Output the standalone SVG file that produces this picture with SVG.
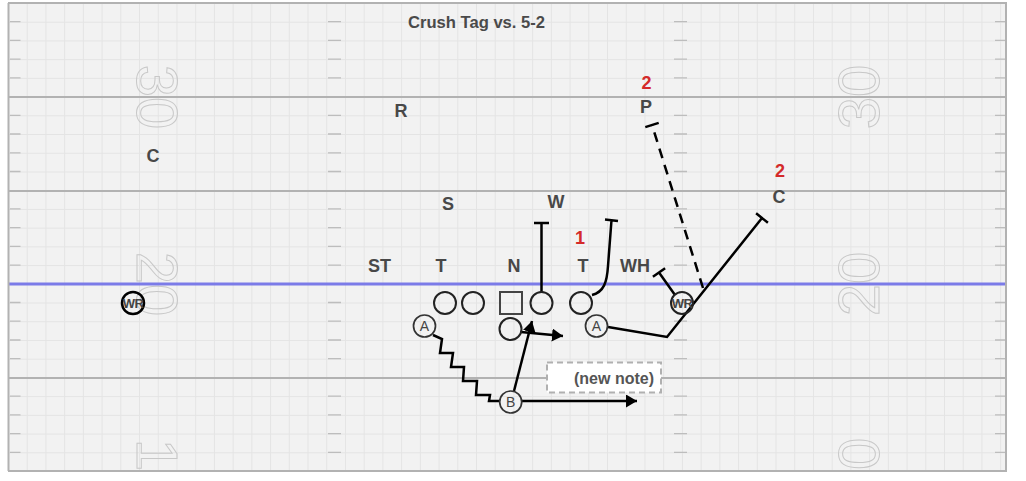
<svg xmlns="http://www.w3.org/2000/svg" width="1026" height="481" viewBox="0 0 1026 481">
<style>
.grid{stroke:#e4e4e4;stroke-width:1;fill:none}
.yard{stroke:#b2b2b2;stroke-width:2;fill:none}
.hash{stroke:#bdbdbd;stroke-width:1.3;fill:none}
.num{font-family:"Liberation Sans",Arial,sans-serif;font-size:58px;fill:none;stroke:#c8c8c8;stroke-width:1}
.lbl{font-family:"Liberation Sans",Arial,sans-serif;font-size:18px;font-weight:bold;fill:#484848;text-anchor:middle}
.red{fill:#d42a2a}
.pl{fill:none;stroke:#222;stroke-width:2}
.pt{font-family:"Liberation Sans",Arial,sans-serif;font-size:14px;fill:#444;text-anchor:middle}
.wr{font-family:"Liberation Sans",Arial,sans-serif;font-size:13px;font-weight:bold;fill:#444;text-anchor:middle;letter-spacing:-0.5px}
.rt{fill:none;stroke:#000;stroke-width:2.5;stroke-linejoin:miter}
.arr{marker-end:url(#ah)}
</style>
<defs>
<clipPath id="fieldClip"><rect x="8" y="3" width="998" height="468"/></clipPath>
<pattern id="gp" patternUnits="userSpaceOnUse" x="8" y="3" width="18.72" height="18.72">
<path class="grid" d="M0,0.5 H18.72 M0.5,0 V18.72"/>
</pattern>
<marker id="ah" markerUnits="userSpaceOnUse" markerWidth="13" markerHeight="14" refX="11" refY="6.5" orient="auto">
<path d="M0,0 L11,6.5 L0,13 z" fill="#000"/>
</marker>
</defs>
<rect width="1026" height="481" fill="#fff"/>
<g id="field" clip-path="url(#fieldClip)">
<rect x="8" y="3" width="998" height="468" fill="#f2f2f2"/>
<rect x="8" y="3" width="998" height="468" fill="url(#gp)"/>
<path class="hash" d="M10,21.7H20.5 M10,40.4H20.5 M10,59.2H20.5 M10,77.9H20.5 M10,115.3H20.5 M10,134H20.5 M10,152.8H20.5 M10,171.5H20.5 M10,208.9H20.5 M10,227.6H20.5 M10,246.4H20.5 M10,265.1H20.5 M10,302.5H20.5 M10,321.2H20.5 M10,340H20.5 M10,358.7H20.5 M10,396.1H20.5 M10,414.8H20.5 M10,433.6H20.5 M10,452.3H20.5"/>
<path class="hash" d="M328,21.7H341 M328,40.4H341 M328,59.2H341 M328,77.9H341 M328,115.3H341 M328,134H341 M328,152.8H341 M328,171.5H341 M328,208.9H341 M328,227.6H341 M328,246.4H341 M328,265.1H341 M328,302.5H341 M328,321.2H341 M328,340H341 M328,358.7H341 M328,396.1H341 M328,414.8H341 M328,433.6H341 M328,452.3H341"/>
<path class="hash" d="M674,21.7H687 M674,40.4H687 M674,59.2H687 M674,77.9H687 M674,115.3H687 M674,134H687 M674,152.8H687 M674,171.5H687 M674,208.9H687 M674,227.6H687 M674,246.4H687 M674,265.1H687 M674,302.5H687 M674,321.2H687 M674,340H687 M674,358.7H687 M674,396.1H687 M674,414.8H687 M674,433.6H687 M674,452.3H687"/>
<path class="hash" d="M995,21.7H1006 M995,40.4H1006 M995,59.2H1006 M995,77.9H1006 M995,115.3H1006 M995,134H1006 M995,152.8H1006 M995,171.5H1006 M995,208.9H1006 M995,227.6H1006 M995,246.4H1006 M995,265.1H1006 M995,302.5H1006 M995,321.2H1006 M995,340H1006 M995,358.7H1006 M995,396.1H1006 M995,414.8H1006 M995,433.6H1006 M995,452.3H1006"/>
<text class="num" text-anchor="middle" transform="translate(137,97) rotate(90)">30</text>
<text class="num" text-anchor="middle" transform="translate(137,284) rotate(90)">20</text>
<text class="num" text-anchor="start" transform="translate(137,438.7) rotate(90)">1</text>
<text class="num" text-anchor="middle" transform="translate(879,97) rotate(-90)">30</text>
<text class="num" text-anchor="middle" transform="translate(879,284) rotate(-90)">20</text>
<text class="num" text-anchor="start" transform="translate(879,470) rotate(-90)">0</text>
<path class="yard" d="M8,97H1006 M8,191H1006 M8,378H1006"/>
<line x1="8" y1="284" x2="1006" y2="284" stroke="#7b7be8" stroke-width="3"/>
</g>
<path class="yard" d="M8,3H1007 M8.5,3V471 M1006,3V471 M8,471H1007"/>
<text id="title" class="lbl" x="476.5" y="28" style="font-size:16.6px;fill:#4a4a4a">Crush Tag vs. 5-2</text>
<g id="defense">
<g id="d-c-left"><text class="lbl" x="153" y="162">C</text></g>
<g id="d-r"><text class="lbl" x="401" y="116.5">R</text></g>
<g id="d-p"><text class="lbl red" x="646.5" y="89">2</text><text class="lbl" x="646" y="113">P</text></g>
<g id="d-c-right"><text class="lbl red" x="780" y="177">2</text><text class="lbl" x="779" y="203">C</text></g>
<g id="d-s"><text class="lbl" x="448" y="210">S</text></g>
<g id="d-w"><text class="lbl" x="556" y="207.5">W</text></g>
<g id="d-st"><text class="lbl" x="379.5" y="271.5">ST</text></g>
<g id="d-t1"><text class="lbl" x="441" y="271.5">T</text></g>
<g id="d-n"><text class="lbl" x="514" y="271.5">N</text></g>
<g id="d-t2"><text class="lbl red" x="580" y="244">1</text><text class="lbl" x="583" y="271.5">T</text></g>
<g id="d-wh"><text class="lbl" x="635" y="271.5">WH</text></g>
</g>
<g id="connectors">
<path class="rt" d="M541.5,292 V223 M534,223 H549"/>
<path class="rt" d="M592,295 C604,292 607,282 608,266 L611.5,220 M605,219.5 L618,221"/>
<path class="rt" d="M675,295 L659,272.5 M652.9,276.8 L665.1,268.2"/>
<path class="rt" d="M608,327 L667,337 L762,218 M756.1,213.3 L767.9,222.7"/>
<path class="rt" d="M703,288 L652,125" stroke-dasharray="10,7"/>
<path class="rt" d="M645.3,127.1 L658.7,122.9"/>
<path class="rt" d="M433,335 L442,339 L440,353 L453,353 L451,367 L464,367 L463,381 L477,381 L476,395 L490,395 L489,401 L499.5,401"/>
<path class="rt arr" d="M522,401 H637"/>
<path class="rt arr" d="M514,391 L532,321"/>
<path class="rt arr" d="M521,332 L563,336"/>
</g>
<g id="offense">
<g id="o-wr-left"><circle cx="133" cy="303" r="11" fill="none" stroke="#000" stroke-width="2.5"/><text class="wr" x="133" y="307.5">WR</text></g>
<g id="o-lt"><circle class="pl" cx="445" cy="303" r="11"/></g>
<g id="o-lg"><circle class="pl" cx="473" cy="303" r="11"/></g>
<g id="o-c"><rect x="500" y="292" width="22" height="22" fill="none" stroke="#444" stroke-width="2"/></g>
<g id="o-rg"><circle class="pl" cx="541.5" cy="303" r="11"/></g>
<g id="o-rt"><circle class="pl" cx="581" cy="303" r="11"/></g>
<g id="o-qb"><circle class="pl" cx="510.5" cy="329" r="11"/></g>
<g id="o-a-left"><circle cx="424.5" cy="326" r="11" fill="none" stroke="#333" stroke-width="1.7"/><text class="pt" x="424.5" y="331">A</text></g>
<g id="o-a-right"><circle cx="596.5" cy="326" r="11" fill="none" stroke="#333" stroke-width="1.7"/><text class="pt" x="596.5" y="331">A</text></g>
<g id="o-b"><circle cx="510.7" cy="402" r="11" fill="none" stroke="#333" stroke-width="1.7"/><text class="pt" x="510.7" y="407">B</text></g>
<g id="o-wr-right"><circle cx="682" cy="303" r="11" fill="none" stroke="#222" stroke-width="2"/><text class="wr" x="682" y="307.5">WR</text></g>
</g>
<g id="note">
<rect x="547" y="362.5" width="114" height="30" fill="#fff" stroke="#b0b0b0" stroke-width="2" stroke-dasharray="6,4"/>
<text x="654" y="383.5" text-anchor="end" style="font-family:'Liberation Sans',Arial,sans-serif;font-size:16px;font-weight:bold;fill:#555">(new note)</text>
</g>
</svg>
